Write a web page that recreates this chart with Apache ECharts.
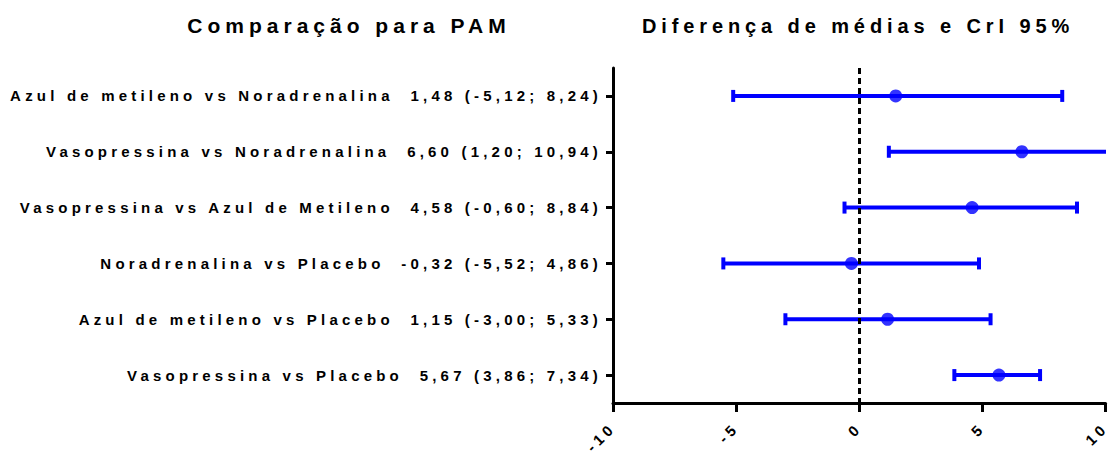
<!DOCTYPE html>
<html>
<head>
<meta charset="utf-8">
<script src="https://cdn.jsdelivr.net/npm/echarts@6/dist/echarts.min.js"></script>
<style>
  html, body { margin: 0; padding: 0; background: #fff; }
  #chart { width: 1113px; height: 454px; }
  #chart svg text { letter-spacing: 0.28em; white-space: pre; }
  #chart svg text[style*="20px"] { letter-spacing: 4.9px; }
  #chart svg text[style*="21px"] { letter-spacing: 5px; }
</style>
</head>
<body>
<div id="chart"></div>
<script>
// ---- data ----
const comparisons = [
  'Azul de metileno vs Noradrenalina',
  'Vasopressina vs Noradrenalina',
  'Vasopressina vs Azul de Metileno',
  'Noradrenalina vs Placebo',
  'Azul de metileno vs Placebo',
  'Vasopressina vs Placebo'
];
const means = [1.48, 6.60, 4.58, -0.32, 1.15, 5.67];
const lows  = [-5.12, 1.20, -0.60, -5.52, -3.00, 3.86];
const highs = [8.24, 10.94, 8.84, 4.86, 5.33, 7.34];
const xTicks = [-10, -5, 0, 5, 10];
const titleLeft = 'Comparação para PAM';
const titleRight = 'Diferença de médias e CrI 95%';

function fmt(v) { return v.toFixed(2).replace('.', ','); }
const ciText = means.map((m, i) => fmt(m) + ' (' + fmt(lows[i]) + '; ' + fmt(highs[i]) + ')');

const BLUE = '#0000ff';
const FONT = 'Arial, "Liberation Sans", sans-serif';

const chart = echarts.init(document.getElementById('chart'), null, { renderer: 'svg' });
chart.setOption({
  animation: false,
  backgroundColor: '#fff',
  title: [
    { text: titleLeft, left: 344, top: 10, textAlign: 'center',
      textStyle: { fontFamily: FONT, fontWeight: 'bold', fontSize: 21, color: '#000' } },
    { text: titleRight, left: 853, top: 11, textAlign: 'center',
      textStyle: { fontFamily: FONT, fontWeight: 'bold', fontSize: 20, color: '#000' } }
  ],
  grid: { left: 613, right: 7, top: 68, bottom: 51 },
  xAxis: {
    type: 'value', min: xTicks[0], max: xTicks[xTicks.length - 1], interval: 5,
    splitLine: { show: false },
    axisLine: { show: true, onZero: false, lineStyle: { color: '#000', width: 3 } },
    axisTick: { show: true, length: 9, lineStyle: { color: '#000', width: 3 } },
    axisLabel: { rotate: 45, margin: 22, color: '#000', fontFamily: FONT, fontWeight: 'bold', fontSize: 15 }
  },
  yAxis: {
    type: 'category', inverse: true, data: comparisons,
    axisLine: { show: true, onZero: false, lineStyle: { color: '#000', width: 3 } },
    axisTick: { show: true, alignWithLabel: true, length: 7, lineStyle: { color: '#000', width: 3 } },
    axisLabel: {
      margin: 11, color: '#000', fontFamily: FONT, fontWeight: 'bold', fontSize: 15,
      formatter: (v, i) => v + '  ' + ciText[i]
    },
    splitLine: { show: false }
  },
  series: [
    {
      type: 'custom',
      clip: true,
      data: comparisons.map((c, i) => [i, lows[i], highs[i]]),
      encode: { y: 0, x: [1, 2] },
      renderItem: function (params, api) {
        const idx = api.value(0);
        const a = api.coord([api.value(1), idx]);
        const b = api.coord([api.value(2), idx]);
        const h = 6;
        const st = { stroke: BLUE, lineWidth: 4 };
        return {
          type: 'group',
          children: [
            { type: 'line', shape: { x1: a[0], y1: a[1], x2: b[0], y2: b[1] }, style: st },
            { type: 'line', shape: { x1: a[0], y1: a[1] - h, x2: a[0], y2: a[1] + h }, style: st },
            { type: 'line', shape: { x1: b[0], y1: b[1] - h, x2: b[0], y2: b[1] + h }, style: st }
          ]
        };
      },
      z: 2
    },
    {
      type: 'scatter',
      data: comparisons.map((c, i) => [means[i], i]),
      symbol: 'circle', symbolSize: 13,
      itemStyle: { color: BLUE },
      z: 3
    },
    {
      type: 'line',
      data: [],
      markLine: {
        silent: true, symbol: 'none', animation: false,
        label: { show: false },
        lineStyle: { color: '#000', type: [6, 4], width: 3 },
        data: [{ xAxis: 0 }]
      },
      z: 4
    }
  ]
});
</script>
</body>
</html>
